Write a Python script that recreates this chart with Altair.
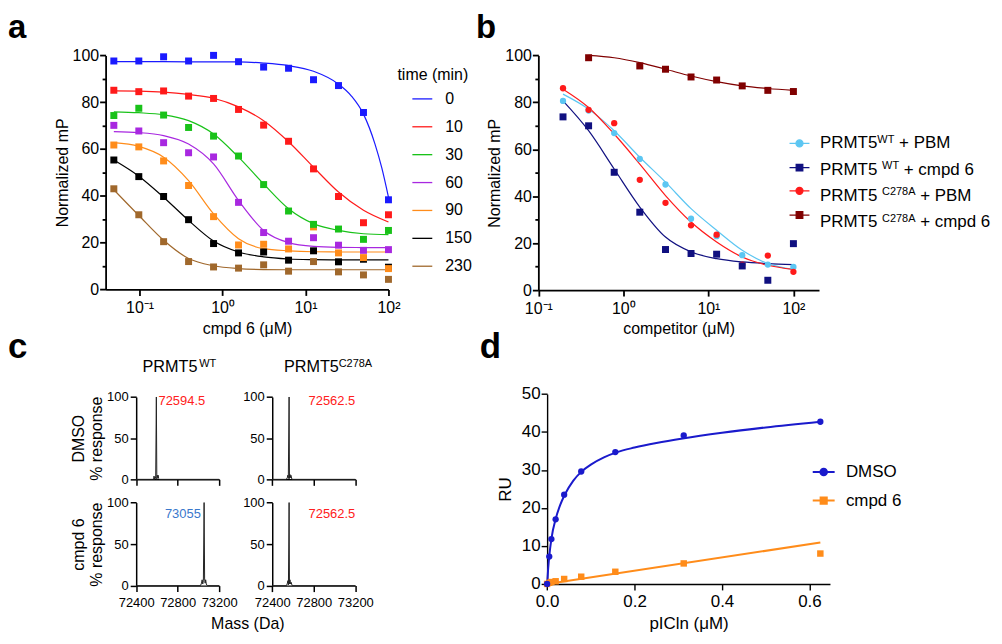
import altair as alt
import pandas as pd

FONT = "Liberation Sans"
W, H = 990, 626

# ---------------- panel a ----------------
a_conc = [0.049, 0.098, 0.195, 0.39, 0.78, 1.56, 3.13, 6.25, 12.5, 25, 50, 100]
a_times = ["0", "10", "30", "60", "90", "150", "230"]
a_colors = ["#1a1aff", "#ff1a1a", "#19c219", "#a828e0", "#ff8c1a", "#000000", "#a0682c"]
a_points = {
    "0":   [97.6, 97.6, 99.4, 97.6, 100.0, 97.3, 95.0, 94.5, 89.6, 87.1, 75.6, 38.3],
    "10":  [85.1, 84.5, 84.8, 82.6, 81.6, 76.9, 70.2, 63.3, 51.5, 39.7, 28.5, 31.9],
    "30":  [74.3, 77.4, 74.5, 69.2, 65.5, 57.0, 44.8, 33.5, 27.8, 25.8, 21.4, 25.2],
    "60":  [70.1, 67.7, 62.7, 58.4, 56.6, 37.2, 24.3, 20.6, 22.1, 18.9, 16.7, 17.0],
    "90":  [61.7, 60.9, 54.9, 44.4, 31.1, 19.0, 19.3, 17.3, 26.7, 15.6, 13.6, 8.9],
    "150": [55.3, 48.2, 39.7, 29.8, 19.6, 15.6, 16.0, 12.5, 16.5, 11.8, 12.9, 9.5],
    "230": [43.0, 31.9, 20.4, 11.9, 9.6, 9.1, 10.5, 7.8, 11.9, 7.5, 6.2, 4.3],
}
a_fit0_x = [0.049, 0.195, 0.78, 1.56, 3.13, 6.25, 12.5, 25, 36, 50, 69, 83, 100]
a_fit0_y = [97.3, 97.3, 97.2, 97.2, 96.7, 95.6, 93.2, 87.7, 82.5, 74.9, 62.0, 52.0, 39.4]
a_fits = {
    "10":  [84.8, 84.7, 84.3, 83.3, 81.7, 78.0, 72.1, 63.1, 52.2, 41.6, 33.8, 28.8],
    "30":  [75.9, 75.5, 74.6, 72.1, 66.4, 56.5, 45.1, 34.5, 28.1, 25.2, 23.8, 23.4],
    "60":  [67.4, 67.0, 65.7, 62.1, 53.6, 38.0, 25.2, 20.0, 18.4, 18.0, 17.9, 17.9],
    "90":  [62.7, 61.1, 56.5, 46.5, 32.3, 21.7, 17.4, 16.5, 16.1, 16.0, 16.0, 16.0],
    "150": [55.3, 48.4, 39.4, 29.5, 20.7, 16.0, 13.9, 13.0, 12.7, 12.6, 12.6, 12.6],
    "230": [42.6, 31.6, 21.0, 13.2, 10.1, 8.9, 8.5, 8.4, 8.4, 8.4, 8.4, 8.4],
}

# ---------------- panel b ----------------
b_conc = [0.195, 0.39, 0.78, 1.56, 3.13, 6.25, 12.5, 25, 50, 100]
b_names = ["PRMT5 WT + PBM", "PRMT5 WT + cmpd 6", "PRMT5 C278A + PBM", "PRMT5 C278A + cmpd 6"]
b_label_main = ["PRMT5", "PRMT5", "PRMT5", "PRMT5"]
b_label_sup = ["WT", "WT", "C278A", "C278A"]
b_label_rest = ["+ PBM", "+ cmpd 6", "+ PBM", "+ cmpd 6"]
b_colors = ["#5cc6f2", "#101080", "#ff1a1a", "#800000"]
b_wt_pbm = [80.6, 76.5, 66.9, 55.9, 45.0, 30.4, 23.0, 14.9, 10.9, 9.9]
b_wt_cmpd = [73.8, 70.0, 50.2, 33.2, 17.3, 15.6, 15.3, 10.3, 4.2, 19.8]
b_mut_pbm = [86.0, 76.8, 71.1, 47.0, 37.2, 27.6, 23.6, 10.9, 14.7, 7.8]
b_mut_cmpd_x = [0.39, 1.56, 3.13, 6.25, 12.5, 25, 50, 100]
b_mut_cmpd = [99.0, 95.5, 94.1, 90.8, 89.5, 87.0, 85.1, 84.6]
b_fit_wt_pbm = [83.5, 77.1, 67.9, 56.6, 46.0, 34.7, 25.5, 17.0, 11.3, 8.8]
b_fit_wt_cmpd = [80.6, 67.9, 51.6, 35.4, 22.6, 16.3, 13.4, 12.0, 11.3, 10.9]
b_fit_mut_pbm = [85.6, 77.8, 66.5, 53.7, 40.3, 29.0, 20.5, 14.1, 10.6, 8.8]
b_fit_mut_cmpd_x = [0.39, 0.78, 1.56, 3.13, 6.25, 12.5, 25, 50, 100]
b_fit_mut_cmpd = [100.0, 99.0, 96.9, 94.1, 91.2, 88.8, 87.0, 85.9, 85.1]

# ---------------- panel c ----------------
c_tl_mass = [72400, 72560, 72568, 72572, 72577, 72583, 72588, 72594.5, 72599, 72604, 72608, 72612, 72617, 72625, 73200]
c_tl_int = [0, 0, 0, 4, 0, 3, 1, 100, 0, 5, 2, 5, 1, 0, 0]
c_tr_mass = [72400, 72535, 72545, 72550, 72555, 72562.5, 72566, 72570, 72575, 72580, 72590, 73200]
c_tr_int = [0, 0, 2, 5, 1, 100, 1, 6, 2, 5, 0, 0]
c_bl_mass = [72400, 73020, 73030, 73036, 73042, 73048, 73055, 73060, 73065, 73070, 73076, 73085, 73200]
c_bl_int = [0, 0, 3, 7, 2, 6, 100, 8, 3, 7, 2, 0, 0]
c_br_mass = [72400, 72538, 72546, 72551, 72556, 72562.5, 72566, 72571, 72576, 72582, 72592, 73200]
c_br_int = [0, 0, 3, 6, 1, 100, 2, 7, 2, 4, 0, 0]
c_labels = ["72594.5", "72562.5", "73055", "72562.5"]
c_label_mass = [72615, 73200, 73024, 73200]
c_label_int = [95, 95, 86.5, 86]

# ---------------- panel d ----------------
d_x = [0, 0.0049, 0.0098, 0.0195, 0.039, 0.078, 0.156, 0.3125, 0.625]
d_dmso = [0, 7.2, 11.8, 17.0, 23.5, 29.6, 34.7, 39.1, 42.7]
d_cmpd = [0, 0.3, 0.5, 0.7, 1.3, 1.9, 3.2, 5.4, 8.0]
d_fit_dmso_x = [0, 0.0025, 0.005, 0.01, 0.02, 0.03, 0.04, 0.06, 0.08, 0.1, 0.13, 0.16, 0.2, 0.25, 0.31, 0.4, 0.5, 0.625]
d_fit_dmso = [0, 4.2, 7.4, 12.0, 17.3, 20.8, 23.4, 27.2, 29.7, 31.4, 33.3, 34.7, 35.9, 37.1, 38.3, 39.8, 41.2, 42.7]
d_fit_cmpd_x = [0, 0.625]
d_fit_cmpd = [0, 10.9]
d_names = ["DMSO", "cmpd 6"]
d_colors = ["#1a1acc", "#ff8c1a"]


def axis(**kw):
    base = dict(grid=False, domainColor="black", tickColor="black", labelColor="black",
                titleColor="black", labelFont=FONT, titleFont=FONT, titleFontWeight="normal",
                labelFlush=False, labelOverlap=False)
    base.update(kw)
    return alt.Axis(**base)


def text(t, x, y, size, weight="normal", align="left", color="black"):
    return alt.Chart(alt.Data(values=[{"t": t}])).mark_text(
        align=align, baseline="alphabetic", fontSize=size, fontWeight=weight,
        color=color, font=FONT).encode(text="t:N", x=alt.value(x), y=alt.value(y))


minor_tick = {"condition": {"test": "datum.value % 20 == 0", "value": 6}, "value": 3.5}
minor_label = "datum.value % 20 == 0 ? datum.label : ''"
EXP = "datum.value < 0.5 ? '10⁻¹' : datum.value < 5 ? '10⁰' : datum.value < 50 ? '10¹' : '10²'"

layers = []

# ---------- panel a ----------
order_a = list(reversed(a_times))
a_pt_rows, a_fit_rows = [], []
for t in order_a:
    for x, y in zip(a_conc, a_points[t]):
        a_pt_rows.append({"x": x, "y": y, "t": t})
    if t == "0":
        for x, y in zip(a_fit0_x, a_fit0_y):
            a_fit_rows.append({"x": x, "y": y, "t": t})
    else:
        for x, y in zip(a_conc, a_fits[t]):
            a_fit_rows.append({"x": x, "y": y, "t": t})
a_pt_df = pd.DataFrame(a_pt_rows)
a_fit_df = pd.DataFrame(a_fit_rows)

a_xs = alt.Scale(type="log", domain=[0.039, 100], range=[98, 382], nice=False)
a_ys = alt.Scale(domain=[0, 100], range=[281.3, 46.3], nice=False, zero=False)
a_xaxis = axis(orient="bottom", offset=281.3 - H, values=[0.1, 1, 10, 100], labelExpr=EXP,
               title="cmpd 6 (μM)", tickSize=6, tickWidth=1.8, domainWidth=1.8,
               labelFontSize=16, titleFontSize=16, labelPadding=4, titlePadding=5)
a_yaxis = axis(orient="left", offset=-98, values=list(range(0, 101, 10)), labelExpr=minor_label,
               title="Normalized mP", tickSize=minor_tick, tickWidth=1.8, domainWidth=1.8,
               labelFontSize=16, titleFontSize=16, labelPadding=1, titlePadding=2)
a_legend = alt.Legend(orient="none", legendX=391, legendY=58, title="time (min)",
                      titleFontSize=16, titleFontWeight="normal", labelFontSize=16,
                      symbolType="stroke", symbolSize=400, symbolStrokeWidth=1.3,
                      symbolOffset=14, labelOffset=12, rowPadding=9, titlePadding=5,
                      labelFont=FONT, titleFont=FONT)

layers.append(alt.Chart(a_fit_df).mark_line(strokeWidth=1.2, interpolate="monotone").encode(
    x=alt.X("x:Q", scale=a_xs, axis=a_xaxis),
    y=alt.Y("y:Q", scale=a_ys, axis=a_yaxis),
    stroke=alt.Stroke("t:N", scale=alt.Scale(domain=a_times, range=a_colors), legend=a_legend),
))
layers.append(alt.Chart(a_pt_df).mark_square(size=49, opacity=1).encode(
    x=alt.X("x:Q", scale=a_xs, axis=None),
    y=alt.Y("y:Q", scale=a_ys, axis=None),
    fill=alt.Fill("t:N", scale=alt.Scale(domain=a_times, range=a_colors), legend=None),
))

# ---------- panel b ----------
b_pt_rows, b_fit_rows = [], []
for name, xs, ys in [(b_names[3], b_mut_cmpd_x, b_mut_cmpd), (b_names[1], b_conc, b_wt_cmpd),
                     (b_names[0], b_conc, b_wt_pbm), (b_names[2], b_conc, b_mut_pbm)]:
    for x, y in zip(xs, ys):
        b_pt_rows.append({"x": x, "y": y, "s": name})
for name, xs, ys in [(b_names[3], b_fit_mut_cmpd_x, b_fit_mut_cmpd), (b_names[1], b_conc, b_fit_wt_cmpd),
                     (b_names[0], b_conc, b_fit_wt_pbm), (b_names[2], b_conc, b_fit_mut_pbm)]:
    for x, y in zip(xs, ys):
        b_fit_rows.append({"x": x, "y": y, "s": name})
b_pt_df = pd.DataFrame(b_pt_rows)
b_fit_df = pd.DataFrame(b_fit_rows)

b_xs = alt.Scale(type="log", domain=[0.1, 200], range=[532.5, 814.3], nice=False)
b_ys = alt.Scale(domain=[0, 100], range=[282, 46.3], nice=False, zero=False)
b_xaxis = axis(orient="bottom", offset=282 - H, values=[0.1, 1, 10, 100], labelExpr=EXP,
               title="competitor (μM)", tickSize=6, tickWidth=1.8, domainWidth=1.8,
               labelFontSize=16, titleFontSize=16, labelPadding=4, titlePadding=5)
b_yaxis = axis(orient="left", offset=-532.5, values=list(range(0, 101, 10)), labelExpr=minor_label,
               title="Normalized mP", tickSize=minor_tick, tickWidth=1.8, domainWidth=1.8,
               labelFontSize=16, titleFontSize=16, labelPadding=1, titlePadding=2)
b_col = alt.Scale(domain=b_names, range=b_colors)
CIRC = "M-1,0H1M0.35,0A0.35,0.35,0,1,1,-0.35,0A0.35,0.35,0,1,1,0.35,0Z"
SQR = "M-1,0H1M-0.33,-0.33H0.33V0.33H-0.33Z"
b_shape = alt.Scale(domain=b_names, range=[CIRC, SQR, CIRC, SQR])
b_legend = alt.Legend(orient="none", legendX=783.7, legendY=123.7, title=None,
                      labelExpr="''", labelFontSize=10, symbolSize=400, symbolStrokeWidth=1.3,
                      labelOffset=0, rowPadding=6.3)

layers.append(alt.Chart(b_fit_df).mark_line(strokeWidth=1.2, interpolate="monotone").encode(
    x=alt.X("x:Q", scale=b_xs, axis=b_xaxis),
    y=alt.Y("y:Q", scale=b_ys, axis=b_yaxis),
    stroke=alt.Stroke("s:N", scale=b_col, legend=None),
))
layers.append(alt.Chart(b_pt_df).transform_filter(
    alt.FieldOneOfPredicate(field="s", oneOf=[b_names[0], b_names[2]])
).mark_circle(size=40, opacity=1).encode(
    x=alt.X("x:Q", scale=b_xs, axis=None),
    y=alt.Y("y:Q", scale=b_ys, axis=None),
    fill=alt.Fill("s:N", scale=b_col, legend=None),
))
layers.append(alt.Chart(b_pt_df).transform_filter(
    alt.FieldOneOfPredicate(field="s", oneOf=[b_names[1], b_names[3]])
).mark_square(size=49, opacity=1).encode(
    x=alt.X("x:Q", scale=b_xs, axis=None),
    y=alt.Y("y:Q", scale=b_ys, axis=None),
    fill=alt.Fill("s:N", scale=b_col, legend=None),
))
layers.append(alt.Chart(pd.DataFrame({"s": b_names})).transform_filter("false").mark_point(
    filled=True, size=400, opacity=1).encode(
    fill=alt.Fill("s:N", scale=b_col, legend=b_legend),
    stroke=alt.Stroke("s:N", scale=b_col, legend=b_legend),
    shape=alt.Shape("s:N", scale=b_shape, legend=b_legend),
))
# legend label texts (with superscripts) beside the legend symbols
bx0 = 815.3
b_base = [139.8, 166.1, 192.4, 218.7]
b_sup_dx = [57.6, 62.3, 62.3, 62.3]
b_rest_dx = [79.4, 84.1, 100.6, 100.6]
for i in range(4):
    layers.append(text(b_label_main[i], bx0, b_base[i], 17))
    layers.append(text(b_label_sup[i], bx0 + b_sup_dx[i], b_base[i] - 5.5, 11))
    layers.append(text(b_label_rest[i], bx0 + b_rest_dx[i], b_base[i], 17))

# ---------- panel c ----------
c_specs = [
    (c_tl_mass, c_tl_int, [128.7, 212.0], [472.0, 389.3], False, "#ff2020", "left"),
    (c_tr_mass, c_tr_int, [265.3, 348.7], [472.0, 389.3], False, "#ff2020", "right"),
    (c_bl_mass, c_bl_int, [128.7, 212.0], [578.7, 495.3], True, "#3a78cc", "right"),
    (c_br_mass, c_br_int, [265.3, 348.7], [578.7, 495.3], True, "#ff2020", "right"),
]
c_titles = [["DMSO", "% response"], None, ["cmpd 6", "% response"], None]
for i, (ms, it, xr, yr, bottom, col, al) in enumerate(c_specs):
    xs = alt.Scale(domain=[72400, 73200], range=xr, nice=False, zero=False)
    ys = alt.Scale(domain=[0, 100], range=yr, nice=False, zero=False)
    xax = axis(orient="bottom", offset=yr[0] - H, values=[72400, 72800, 73200], labels=bottom,
               title=None, tickSize=6, tickWidth=1.5, domainWidth=1.5, labelFontSize=13,
               labelPadding=5, format="d")
    yax_kw = dict(orient="left", offset=-xr[0], values=[0, 50, 100], tickSize=6, tickWidth=1.5,
                  domainWidth=1.5, labelFontSize=13, labelPadding=2)
    if c_titles[i]:
        yax = axis(title=c_titles[i], titleFontSize=16, titlePadding=2, titleLineHeight=18, **yax_kw)
    else:
        yax = axis(title=None, **yax_kw)
    df = pd.DataFrame({"m": ms, "r": it})
    layers.append(alt.Chart(df).mark_line(color="#222222", strokeWidth=1).encode(
        x=alt.X("m:Q", scale=xs, axis=xax),
        y=alt.Y("r:Q", scale=ys, axis=yax),
    ))
    layers.append(alt.Chart(pd.DataFrame({"m": [c_label_mass[i]], "r": [c_label_int[i]], "t": [c_labels[i]]})).mark_text(
        align=al, baseline="middle", fontSize=13, color=col, font=FONT).encode(
        x=alt.X("m:Q", scale=xs, axis=None),
        y=alt.Y("r:Q", scale=ys, axis=None),
        text="t:N",
    ))

# ---------- panel d ----------
d_pt_df = pd.DataFrame({"x": d_x * 2, "y": d_cmpd + d_dmso,
                        "s": [d_names[1]] * len(d_x) + [d_names[0]] * len(d_x)})
d_fit_df = pd.DataFrame({"x": d_fit_cmpd_x + d_fit_dmso_x, "y": d_fit_cmpd + d_fit_dmso,
                         "s": [d_names[1]] * len(d_fit_cmpd_x) + [d_names[0]] * len(d_fit_dmso_x)})
d_xs = alt.Scale(domain=[0, 0.647], range=[541.3, 825.3], nice=False, zero=False)
d_ys = alt.Scale(domain=[0, 50], range=[577, 386.3], nice=False, zero=False)
d_xaxis = axis(orient="bottom", offset=577 - H, values=[0, 0.2, 0.4, 0.6], format=".1f",
               title="pICln (μM)", tickSize=6, tickWidth=1.4, domainWidth=1.4,
               labelFontSize=17, titleFontSize=17, labelPadding=4, titlePadding=6)
d_yaxis = axis(orient="left", offset=-541.3, values=[0, 10, 20, 30, 40, 50], format="d",
               title="RU", tickSize=6, tickWidth=1.4, domainWidth=1.4,
               labelFontSize=17, titleFontSize=17, labelPadding=1, titlePadding=7)
d_col = alt.Scale(domain=d_names, range=d_colors)
CIRC_D = "M-1,0H1M0.3,0A0.3,0.3,0,1,1,-0.3,0A0.3,0.3,0,1,1,0.3,0Z"
SQR_D = "M-1,0H1M-0.28,-0.28H0.28V0.28H-0.28Z"
d_legend = alt.Legend(orient="none", legendX=807, legendY=452.7, title=None,
                      labelFontSize=17, symbolSize=484, symbolStrokeWidth=2,
                      labelOffset=10.3, rowPadding=8.6, labelFont=FONT, labelColor="black")
layers.append(alt.Chart(d_fit_df).mark_line(strokeWidth=2, interpolate="monotone").encode(
    x=alt.X("x:Q", scale=d_xs, axis=d_xaxis),
    y=alt.Y("y:Q", scale=d_ys, axis=d_yaxis),
    stroke=alt.Stroke("s:N", scale=d_col, legend=None),
))
layers.append(alt.Chart(d_pt_df).transform_filter(alt.datum.s == d_names[1]).mark_square(size=42, opacity=1).encode(
    x=alt.X("x:Q", scale=d_xs, axis=None),
    y=alt.Y("y:Q", scale=d_ys, axis=None),
    fill=alt.Fill("s:N", scale=d_col, legend=None),
))
layers.append(alt.Chart(d_pt_df).transform_filter(alt.datum.s == d_names[0]).mark_circle(size=40, opacity=1).encode(
    x=alt.X("x:Q", scale=d_xs, axis=None),
    y=alt.Y("y:Q", scale=d_ys, axis=None),
    fill=alt.Fill("s:N", scale=d_col, legend=None),
))
layers.append(alt.Chart(pd.DataFrame({"s": d_names})).transform_filter("false").mark_point(
    filled=True, size=484, opacity=1).encode(
    fill=alt.Fill("s:N", scale=d_col, legend=d_legend),
    stroke=alt.Stroke("s:N", scale=d_col, legend=d_legend),
    shape=alt.Shape("s:N", scale=alt.Scale(domain=d_names, range=[CIRC_D, SQR_D]), legend=d_legend),
))

# ---------- annotations ----------
layers += [
    text("a", 0, 29, 33, "bold"),
    text("b", 470, 29, 33, "bold"),
    text("c", 0, 350, 35, "bold"),
    text("d", 473.6, 350, 35, "bold"),
    text("PRMT5", 135, 364.7, 16.3),
    text("WT", 192, 359.5, 11),
    text("PRMT5", 277, 364.7, 16.3),
    text("C278A", 332, 359.5, 11),
    text("Mass (Da)", 240.8, 622, 16, align="center"),
]

chart = alt.layer(*layers).resolve_scale(
    x="independent", y="independent", stroke="independent", fill="independent", shape="independent"
).properties(
    width=W, height=H, padding=0, autosize=alt.AutoSizeParams(type="none")
).configure_view(stroke=None).configure_legend(labelColor="black", titleColor="black")

chart.save("out.html", embed_options={"renderer": "svg", "actions": False})
